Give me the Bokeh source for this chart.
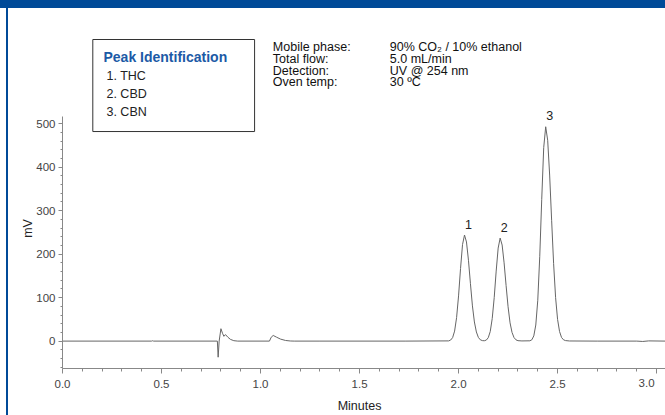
from math import pi
from bokeh.plotting import figure
from bokeh.models import (ColumnDataSource, FixedTicker, Label, BoxAnnotation,
                          PrintfTickFormatter, GlobalInlineStyleSheet)
from bokeh.embed import file_html
from bokeh.resources import INLINE
from bokeh.core.properties import value

# ---- chromatogram trace (minutes, mV) ----
time_min = [0.00, 0.45, 0.455, 0.46, 0.782, 0.786, 0.791, 0.800, 0.808, 0.815,
            0.823, 0.835, 0.848, 0.865, 0.885, 1.045, 1.054, 1.064, 1.081, 1.101,
            1.126, 1.15, 1.17, 1.30, 1.73, 1.95,
            1.96, 1.97, 1.98, 1.99, 2.00, 2.01, 2.02, 2.03, 2.04, 2.05,
            2.06, 2.07, 2.08, 2.09, 2.10, 2.11, 2.12,
            2.13, 2.14, 2.15, 2.16, 2.17, 2.18, 2.19, 2.20, 2.21, 2.22,
            2.23, 2.24, 2.25, 2.26, 2.27, 2.28, 2.29, 2.30, 2.32, 2.36,
            2.37, 2.38, 2.39, 2.40, 2.41, 2.42, 2.43, 2.44, 2.45, 2.46,
            2.47, 2.48, 2.49, 2.50, 2.51, 2.52, 2.53, 2.54, 2.56, 2.70,
            2.90, 2.93, 2.96, 3.045]
signal_mv = [0, 0, 0.8, 0, 0, -37, 0, 28.5, 18, 11,
             15, 9, 4, 1, 0, 0, 9, 13, 9, 4.6,
             1.5, 0.3, 0, 0, 0, 0.5,
             2.4, 8, 23, 54, 104, 167, 222, 244, 228, 186,
             132, 81, 44, 21, 8.5, 3, 1.2,
             0.8, 2.3, 7.8, 22, 52, 100, 161, 214, 237, 221,
             180, 128, 79, 42, 20, 8.2, 2.9, 1, 0.4, 0.7,
             3, 12, 37, 94, 195, 326, 445, 493, 462, 382,
             278, 178, 100, 50, 22, 8.4, 3, 1.2, 0.3, 0,
             0, -0.8, 0.5, 0]

# ---- peaks ----
peak_ids = ["1", "2", "3"]
peak_names = ["THC", "CBD", "CBN"]
peak_time = [2.03, 2.21, 2.44]
peak_height = [244, 237, 493]

# ---- ticks ----
x_ticks = [0.0, 0.5, 1.0, 1.5, 2.0, 2.5, 3.0]
x_minor = [0.1, 0.2, 0.3, 0.4, 0.6, 0.7, 0.8, 0.9, 1.1, 1.2, 1.3, 1.4,
           1.6, 1.7, 1.8, 1.9, 2.1, 2.2, 2.3, 2.4, 2.6, 2.7, 2.8, 2.9]
y_ticks = [0, 100, 200, 300, 400, 500]
y_minor = [-60, -40, -20, 20, 40, 60, 80, 120, 140, 160, 180, 220, 240, 260, 280,
           320, 340, 360, 380, 420, 440, 460, 480]

# ---- conditions ----
cond_keys = ["Mobile phase:", "Total flow:", "Detection:", "Oven temp:"]
cond_vals = ["90% CO\u2082 / 10% ethanol", "5.0 mL/min", "UV @ 254 nm", "30 \u00baC"]

FONT = "Liberation Sans"
BLUE = "#004a98"
X0, X1 = 0.0, 3.045      # extent of the time axis
Y0, Y1 = -63, 517        # extent of the signal axis

p = figure(frame_width=657, frame_height=407,
           x_range=(-0.2727, 3.045), y_range=(-171.1, 765),
           output_backend="svg", toolbar_location=None,
           min_border_left=0, min_border_right=0, min_border_top=0,
           min_border_bottom=0)
p.outline_line_color = None
p.grid.visible = False
p.background_fill_color = "white"
p.border_fill_color = "white"

css = ("html,body{overflow:hidden !important;}"
       "body{margin:8px 0 0 8px !important;"
       "background:linear-gradient(%s,%s) 0 0/100%% 8px no-repeat,"
       "linear-gradient(%s,%s) 6px 0/2px 100%% no-repeat,#ffffff;}") % (BLUE, BLUE, BLUE, BLUE)
p.stylesheets = [GlobalInlineStyleSheet(css=css)]

# trace
src = ColumnDataSource(dict(t=time_min, mv=signal_mv))
p.line("t", "mv", source=src, line_color="#666666", line_width=1)

# peak numbers
psrc = ColumnDataSource(dict(t=peak_time, h=peak_height, lab=peak_ids))
p.text("t", "h", text="lab", source=psrc, x_offset=4, y_offset=-11,
       text_align="center", text_baseline="middle",
       text_font=value(FONT), text_font_size="12.5px", text_color="#222222")

# axes, drawn at fixed positions inside the frame
ax = p.xaxis[0]
ax.ticker = FixedTicker(ticks=x_ticks, minor_ticks=x_minor)
ax.formatter = PrintfTickFormatter(format="%.1f")
ax.major_label_overrides = {3: " "}
ax.fixed_location = Y0
ax.bounds = (X0, X1)
ay = p.yaxis[0]
ay.ticker = FixedTicker(ticks=y_ticks, minor_ticks=y_minor)
ay.fixed_location = X0
ay.bounds = (Y0, Y1)
for a in (ax, ay):
    a.axis_line_color = "#888888"
    a.major_tick_line_color = "#888888"
    a.minor_tick_line_color = "#888888"
    a.major_tick_in = 0
    a.minor_tick_in = 0
    a.major_label_text_font = FONT
    a.major_label_text_font_size = "11.5px"
    a.major_label_text_color = "#444444"
ax.major_tick_out = 5
ax.minor_tick_out = 3
ax.major_label_standoff = 4
ay.major_tick_out = 4
ay.minor_tick_out = 2
ay.major_label_standoff = 3

lab_kw = dict(text_font=FONT, text_font_size="12.5px", text_color="#222222")
# axis titles
p.add_layout(Label(x=1.5, y=Y0, y_offset=-37, text="Minutes",
                   text_align="center", text_baseline="middle", **lab_kw))
p.add_layout(Label(x=X0, y=(Y0 + Y1) / 2, x_offset=-35, y_offset=14, text="mV", angle=pi / 2,
                   text_align="center", text_baseline="middle", **lab_kw))
# last x tick label, kept inside the picture
p.add_layout(Label(x=x_ticks[-1], y=Y0, x_offset=-2, y_offset=-14, text="3.0",
                   text_align="right", text_baseline="middle",
                   text_font=FONT, text_font_size="11.5px", text_color="#444444"))

# peak identification box
p.add_layout(BoxAnnotation(left=0.153, right=0.970, bottom=482, top=693.7,
                           fill_color="white", fill_alpha=1.0,
                           line_color="#333333", line_alpha=1.0, line_width=1))
p.add_layout(Label(x=0.207, y=654.6, text="Peak Identification",
                   text_align="left", text_baseline="middle",
                   text_font=FONT, text_font_size="14px", text_font_style="bold",
                   text_color="#1c5aa6"))
id_y = [610.9, 569.5, 526.5]
for i, (pid, name) in enumerate(zip(peak_ids, peak_names)):
    p.add_layout(Label(x=0.222, y=id_y[i], text="%s. %s" % (pid, name),
                       text_align="left", text_baseline="middle", **lab_kw))

# conditions
cond_y = [676.0, 649.3, 622.4, 595.5]
for k, v, yy in zip(cond_keys, cond_vals, cond_y):
    p.add_layout(Label(x=1.062, y=yy, text=k, text_align="left", text_baseline="middle",
                       text_font=FONT, text_font_size="12.5px", text_color="#111111"))
    p.add_layout(Label(x=1.653, y=yy, text=v, text_align="left", text_baseline="middle",
                       text_font=FONT, text_font_size="12.5px", text_color="#111111"))

open("out.html", "w").write(file_html(p, INLINE))
